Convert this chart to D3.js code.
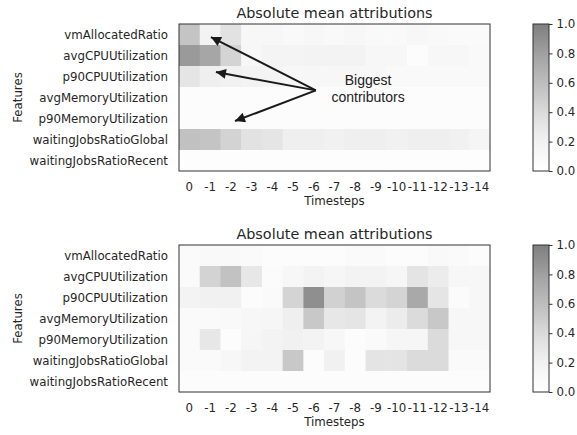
<!DOCTYPE html>
<head>
  <meta charset="utf-8">
  <title>Absolute mean attributions</title>
  <style>
  body { margin: 0; background: #fff; }
  text { font-family: "DejaVu Sans", sans-serif; fill: #262626; }
  .tick-label { font-size: 11.8px; }
  .title { font-size: 14.4px; }
  .frame { fill: none; stroke: #333; stroke-width: 1; }
  .note { font-family: "Liberation Sans", Arial, sans-serif; font-size: 14px; fill: #222; }
  </style>
</head>

<svg id="vis" width="577" height="435"></svg>

<script src="https://cdnjs.cloudflare.com/ajax/libs/d3/7.8.5/d3.min.js"></script>

<script>
"use strict";

var features = ["vmAllocatedRatio", "avgCPUUtilization", "p90CPUUtilization",
  "avgMemoryUtilization", "p90MemoryUtilization", "waitingJobsRatioGlobal",
  "waitingJobsRatioRecent"];

var timesteps = ["0", "-1", "-2", "-3", "-4", "-5", "-6", "-7", "-8", "-9",
  "-10", "-11", "-12", "-13", "-14"];

var colorTicks = [0, 0.2, 0.4, 0.6, 0.8, 1.0];

// valores (linhas = features, colunas = timesteps)
var topValues = [
  [0.55, 0.17, 0.34, 0.12, 0.12, 0.10, 0.12, 0.10, 0.12, 0.10, 0.10, 0.12, 0.10, 0.08, 0.08],
  [0.83, 0.76, 0.44, 0.12, 0.16, 0.16, 0.17, 0.17, 0.17, 0.12, 0.12, 0.05, 0.12, 0.12, 0.10],
  [0.31, 0.22, 0.20, 0.18, 0.16, 0.12, 0.12, 0.12, 0.12, 0.12, 0.10, 0.10, 0.10, 0.10, 0.10],
  [0.05, 0.05, 0.05, 0.05, 0.05, 0.05, 0.05, 0.05, 0.05, 0.05, 0.05, 0.05, 0.05, 0.05, 0.05],
  [0.05, 0.05, 0.05, 0.05, 0.05, 0.05, 0.05, 0.05, 0.05, 0.05, 0.05, 0.05, 0.05, 0.05, 0.05],
  [0.57, 0.55, 0.45, 0.34, 0.31, 0.22, 0.22, 0.20, 0.22, 0.22, 0.20, 0.22, 0.22, 0.20, 0.15],
  [0.03, 0.03, 0.03, 0.03, 0.03, 0.03, 0.03, 0.03, 0.03, 0.03, 0.03, 0.03, 0.03, 0.03, 0.03]
];

var bottomValues = [
  [0.08, 0.10, 0.10, 0.08, 0.06, 0.06, 0.06, 0.06, 0.08, 0.08, 0.06, 0.06, 0.10, 0.08, 0.06],
  [0.08, 0.45, 0.56, 0.30, 0.07, 0.12, 0.17, 0.14, 0.17, 0.17, 0.14, 0.32, 0.25, 0.12, 0.12],
  [0.17, 0.20, 0.20, 0.05, 0.08, 0.44, 0.90, 0.46, 0.55, 0.39, 0.44, 0.74, 0.31, 0.07, 0.12],
  [0.08, 0.08, 0.10, 0.12, 0.14, 0.22, 0.52, 0.30, 0.31, 0.17, 0.25, 0.39, 0.52, 0.12, 0.12],
  [0.08, 0.30, 0.05, 0.14, 0.18, 0.20, 0.18, 0.12, 0.05, 0.08, 0.14, 0.14, 0.39, 0.12, 0.12],
  [0.08, 0.08, 0.12, 0.18, 0.18, 0.52, 0.05, 0.20, 0.05, 0.32, 0.32, 0.39, 0.39, 0.08, 0.08],
  [0.06, 0.06, 0.06, 0.06, 0.06, 0.06, 0.06, 0.06, 0.06, 0.06, 0.06, 0.06, 0.06, 0.06, 0.06]
];

// anotação em coordenadas de célula (coluna, linha)
var noteText = ["Biggest", "contributors"];
var noteAnchor = {col: 9.12, row: 3.05};
var arrowFrom = {col: 6.6, row: 3.16};
var arrowTips = [
  {col: 1.54, row: 0.62},
  {col: 1.78, row: 2.29},
  {col: 2.70, row: 4.62}
];

var svg = d3.select("#vis");

var left = 179, width = 311, height = 147;
var cbX = 533, cbW = 16;

// Greys com alpha 0.5 sobre branco
function color(v) {
  return d3.interpolateRgb("#ffffff", d3.interpolateGreys(v))(0.5);
}

var x = d3.scaleBand().domain(timesteps).range([0, width]);
var y = d3.scaleBand().domain(features).range([0, height]);
var cx = d3.scaleLinear().domain([0, timesteps.length]).range([0, width]);
var cy = d3.scaleLinear().domain([0, features.length]).range([0, height]);
var cScale = d3.scaleLinear().domain([0, 1]).range([height, 0]);

var grad = svg.append("defs").append("linearGradient")
    .attr("id", "cbgrad")
    .attr("x1", 0).attr("y1", 1).attr("x2", 0).attr("y2", 0);
d3.range(0, 1.0001, 0.05).forEach(function(t) {
  grad.append("stop").attr("offset", t).attr("stop-color", color(t));
});

var marker = svg.select("defs").append("marker")
    .attr("id", "head")
    .attr("viewBox", "0 0 10 10")
    .attr("refX", 10).attr("refY", 5)
    .attr("markerWidth", 6).attr("markerHeight", 5)
    .attr("markerUnits", "strokeWidth")
    .attr("orient", "auto");
marker.append("path").attr("d", "M0,0 L10,5 L0,10 z").attr("fill", "#1a1a1a");

function panel(top, values, withNote) {
  var g = svg.append("g").attr("transform", "translate(" + left + "," + top + ")");

  g.append("text")
      .attr("class", "title")
      .attr("x", width / 2)
      .attr("y", -6)
      .attr("text-anchor", "middle")
      .text("Absolute mean attributions");

  var rows = g.selectAll(".row")
      .data(values)
    .enter().append("g")
      .attr("transform", function(d, i) { return "translate(0," + y(features[i]) + ")"; });

  rows.selectAll("rect")
      .data(function(d) { return d; })
    .enter().append("rect")
      .attr("x", function(d, j) { return x(timesteps[j]); })
      .attr("width", x.bandwidth() + 0.5)
      .attr("height", y.bandwidth() + 0.5)
      .attr("fill", function(d) { return color(d); });

  g.append("rect")
      .attr("class", "frame")
      .attr("width", width)
      .attr("height", height);

  // rótulos das linhas
  g.selectAll(".ylab")
      .data(features)
    .enter().append("text")
      .attr("class", "tick-label")
      .attr("x", -11)
      .attr("y", function(d) { return y(d) + y.bandwidth() / 2; })
      .attr("dy", "0.35em")
      .attr("text-anchor", "end")
      .text(function(d) { return d; });

  g.selectAll(".xlab")
      .data(timesteps)
    .enter().append("text")
      .attr("class", "tick-label")
      .attr("x", function(d) { return x(d) + x.bandwidth() / 2; })
      .attr("y", height + 20)
      .attr("text-anchor", "middle")
      .text(function(d) { return d; });

  g.append("text")
      .attr("class", "tick-label")
      .attr("x", width / 2)
      .attr("y", height + 34)
      .attr("text-anchor", "middle")
      .text("Timesteps");

  g.append("text")
      .attr("class", "tick-label")
      .attr("transform", "translate(" + (18 - left) + "," + (height / 2) + ") rotate(-90)")
      .attr("dy", "0.35em")
      .attr("text-anchor", "middle")
      .text("Features");

  // colorbar
  var cb = svg.append("g").attr("transform", "translate(" + cbX + "," + top + ")");
  cb.append("rect")
      .attr("width", cbW)
      .attr("height", height)
      .attr("fill", "url(#cbgrad)");
  cb.append("rect")
      .attr("class", "frame")
      .attr("width", cbW)
      .attr("height", height);
  var ax = cb.append("g")
      .attr("transform", "translate(" + cbW + ",0)")
      .call(d3.axisRight(cScale).tickValues(colorTicks).tickFormat(d3.format(".1f"))
        .tickSize(3.5).tickPadding(4));
  ax.select(".domain").remove();
  ax.selectAll("line").attr("stroke", "#333");
  ax.selectAll("text").attr("class", "tick-label").attr("fill", "#262626")
      .style("font-family", "DejaVu Sans").style("font-size", "11.8px");

  if (withNote) {
    g.selectAll(".arrow")
        .data(arrowTips)
      .enter().append("line")
        .attr("x1", cx(arrowFrom.col))
        .attr("y1", cy(arrowFrom.row))
        .attr("x2", function(d) { return cx(d.col); })
        .attr("y2", function(d) { return cy(d.row); })
        .attr("stroke", "#1a1a1a")
        .attr("stroke-width", 2)
        .attr("marker-end", "url(#head)");

    g.append("text")
        .attr("class", "note")
        .attr("x", cx(noteAnchor.col))
        .attr("y", cy(noteAnchor.row))
        .attr("text-anchor", "middle")
        .selectAll("tspan")
        .data(noteText)
      .enter().append("tspan")
        .attr("x", cx(noteAnchor.col))
        .attr("dy", function(d, i) { return i === 0 ? "-0.2em" : "1.2em"; })
        .text(function(d) { return d; });
  }
}

panel(24, topValues, true);
panel(245, bottomValues, false);
</script>
